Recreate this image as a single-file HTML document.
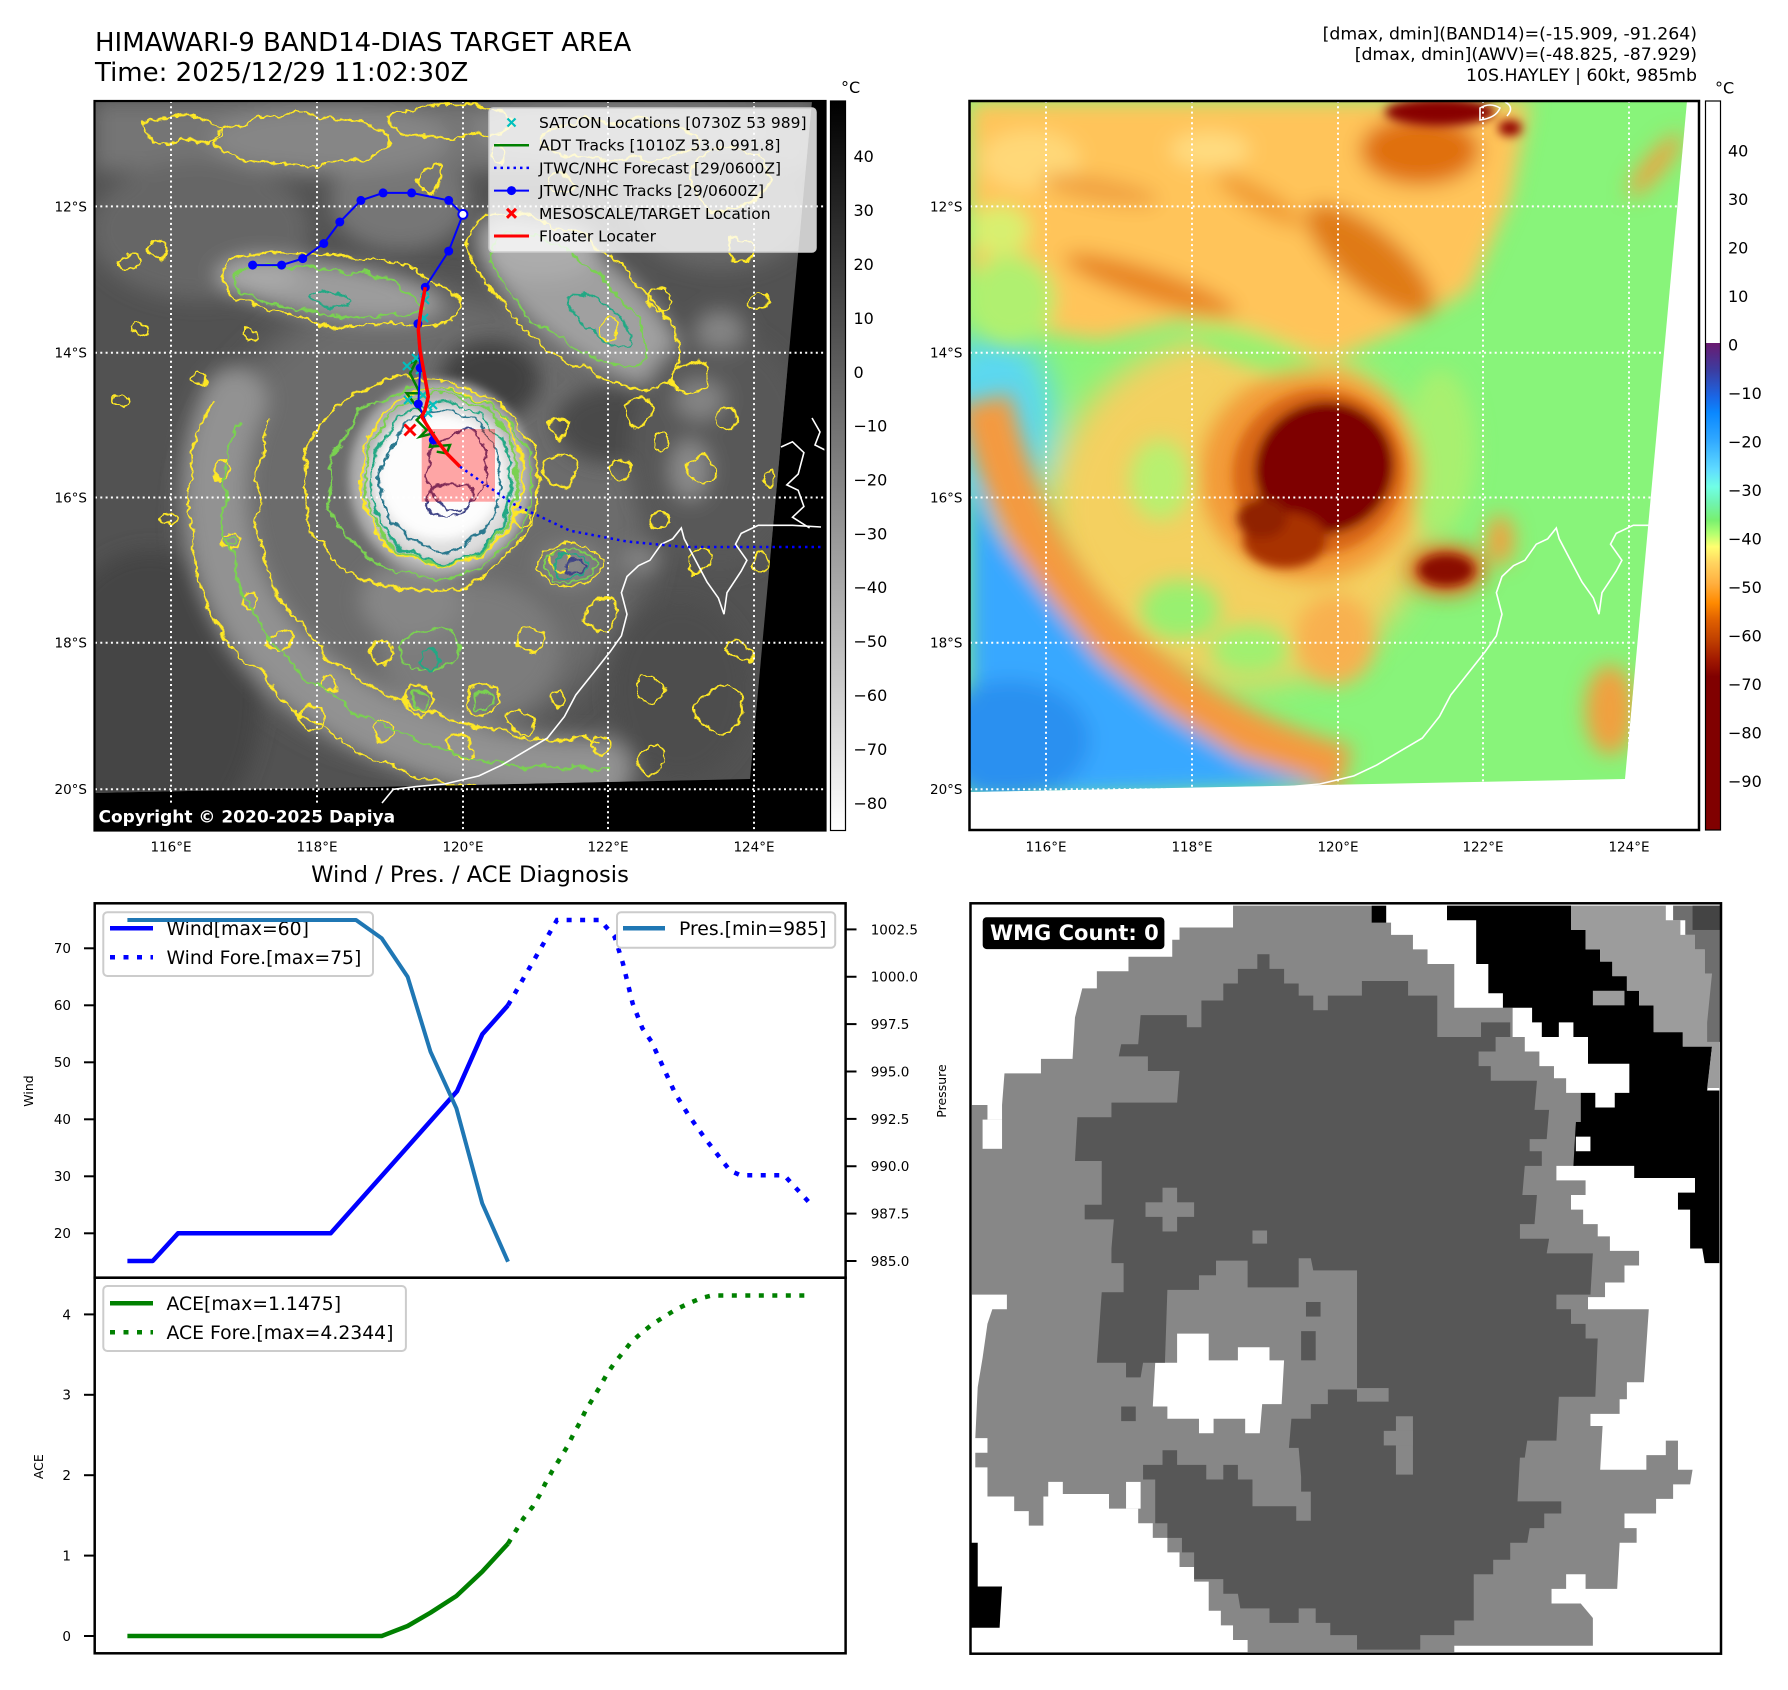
<!DOCTYPE html>
<html><head><meta charset="utf-8">
<style>
html,body{margin:0;padding:0;background:#fff;}
svg{display:block;}
text{font-family:"DejaVu Sans","Liberation Sans",sans-serif;}
</style></head><body>
<svg width="1788" height="1690" viewBox="0 0 1788 1690" xmlns="http://www.w3.org/2000/svg">
<defs>
 <clipPath id="c1"><rect x="94.5" y="101" width="731" height="729.5"/></clipPath>
 <clipPath id="d1"><polygon points="94.5,101 812,101 750,779 94.5,793"/></clipPath>
 <clipPath id="c2"><rect x="969.5" y="101" width="729.5" height="729"/></clipPath>
 <clipPath id="d2"><polygon points="969.5,101 1687,101 1625,779 969.5,792"/></clipPath>
 <clipPath id="cw"><rect x="95" y="904" width="750" height="373"/></clipPath>
 <clipPath id="ca"><rect x="95" y="1279" width="750" height="374"/></clipPath>
 <filter id="bl" x="-30%" y="-30%" width="160%" height="160%"><feGaussianBlur stdDeviation="10"/></filter>
 <filter id="bx" x="-30%" y="-30%" width="160%" height="160%"><feGaussianBlur stdDeviation="16"/></filter>
 <filter id="bm" x="-30%" y="-30%" width="160%" height="160%"><feGaussianBlur stdDeviation="5"/></filter>
 <filter id="wob" filterUnits="userSpaceOnUse" x="60" y="80" width="800" height="780">
  <feTurbulence type="fractalNoise" baseFrequency="0.035" numOctaves="2" seed="4" result="n"/>
  <feDisplacementMap in="SourceGraphic" in2="n" scale="18" xChannelSelector="R" yChannelSelector="G" result="d"/>
  <feTurbulence type="fractalNoise" baseFrequency="0.18" numOctaves="1" seed="9" result="n2"/>
  <feDisplacementMap in="d" in2="n2" scale="7" xChannelSelector="R" yChannelSelector="G"/>
 </filter>
 <linearGradient id="g1" x1="0" y1="0" x2="0" y2="1">
  <stop offset="0" stop-color="#000"/><stop offset="1" stop-color="#fff"/>
 </linearGradient>
 <linearGradient id="g2" gradientUnits="userSpaceOnUse" x1="0" y1="101" x2="0" y2="830.5">
  <stop offset="0" stop-color="#fff"/><stop offset="0.3317" stop-color="#fff"/>
  <stop offset="0.3318" stop-color="#6a1a70"/>
  <stop offset="0.3687" stop-color="#3c3ca0"/>
  <stop offset="0.4053" stop-color="#1a66e6"/>
  <stop offset="0.4277" stop-color="#0a88ff"/>
  <stop offset="0.4647" stop-color="#30a8ff"/>
  <stop offset="0.5058" stop-color="#60dcff"/>
  <stop offset="0.5287" stop-color="#70ffe6"/>
  <stop offset="0.5511" stop-color="#70f4b0"/>
  <stop offset="0.5744" stop-color="#78f070"/>
  <stop offset="0.5922" stop-color="#b0ff70"/>
  <stop offset="0.611" stop-color="#ffff70"/>
  <stop offset="0.6333" stop-color="#ffd460"/>
  <stop offset="0.6607" stop-color="#ffb040"/>
  <stop offset="0.6881" stop-color="#ff8a00"/>
  <stop offset="0.7115" stop-color="#e06000"/>
  <stop offset="0.7389" stop-color="#c04000"/>
  <stop offset="0.7663" stop-color="#a01800"/>
  <stop offset="0.7892" stop-color="#800000"/>
  <stop offset="1" stop-color="#800000"/>
 </linearGradient>
</defs>

<!-- Titles -->
<text x="95" y="51" font-size="26">HIMAWARI-9 BAND14-DIAS TARGET AREA</text>
<text x="95" y="81" font-size="26">Time: 2025/12/29 11:02:30Z</text>
<text x="1697" y="39.5" font-size="17.3" text-anchor="end">[dmax, dmin](BAND14)=(-15.909, -91.264)</text>
<text x="1697" y="60.2" font-size="17.3" text-anchor="end">[dmax, dmin](AWV)=(-48.825, -87.929)</text>
<text x="1697" y="80.9" font-size="17.3" text-anchor="end">10S.HAYLEY | 60kt, 985mb</text>

<!-- ================= MAP 1 ================= -->
<g clip-path="url(#c1)">
 <rect x="94.5" y="101" width="731" height="729.5" fill="#000"/>
 <g clip-path="url(#d1)">
  <rect x="94.5" y="101" width="731" height="729.5" fill="#525252"/>
  <g filter="url(#bx)">
   <ellipse cx="420" cy="520" rx="230" ry="230" fill="#6c6c6c"/>
  </g>
  <g filter="url(#bl)">
   <rect x="94.5" y="101" width="720" height="70" fill="#747474"/>
   <ellipse cx="200" cy="230" rx="110" ry="70" fill="#666"/>
   <ellipse cx="400" cy="200" rx="70" ry="50" fill="#767676"/>
   <ellipse cx="330" cy="140" rx="120" ry="35" fill="#868686"/>
   <ellipse cx="620" cy="130" rx="150" ry="30" fill="#848484"/>
   <ellipse cx="720" cy="210" rx="90" ry="60" fill="#666"/>
   <ellipse cx="330" cy="290" rx="115" ry="28" fill="#9c9c9c" transform="rotate(8 330 290)"/>
   <ellipse cx="260" cy="275" rx="40" ry="18" fill="#a8a8a8"/>
   <ellipse cx="580" cy="300" rx="125" ry="48" fill="#a0a0a0" transform="rotate(38 580 300)"/>
   <ellipse cx="540" cy="250" rx="60" ry="30" fill="#acacac"/>
   <ellipse cx="490" cy="380" rx="50" ry="40" fill="#404040"/>
   <ellipse cx="610" cy="425" rx="55" ry="38" fill="#4a4a4a"/>
   <ellipse cx="720" cy="450" rx="90" ry="120" fill="#595959"/>
   <ellipse cx="700" cy="400" rx="25" ry="20" fill="#848484"/>
   <ellipse cx="690" cy="470" rx="20" ry="30" fill="#8a8a8a"/>
   <ellipse cx="640" cy="560" rx="20" ry="14" fill="#848484"/>
   <ellipse cx="720" cy="330" rx="25" ry="20" fill="#848484"/>
   <ellipse cx="150" cy="700" rx="110" ry="150" fill="#454545"/>
   <path d="M235,400 C195,480 215,600 295,670 S480,770 600,770" fill="none" stroke="#929292" stroke-width="65" stroke-linecap="round"/>
   <ellipse cx="470" cy="650" rx="90" ry="70" fill="#7c7c7c"/>
   <ellipse cx="410" cy="600" rx="50" ry="40" fill="#868686"/>
   <ellipse cx="680" cy="690" rx="70" ry="90" fill="#4e4e4e"/>
   <ellipse cx="570" cy="565" rx="30" ry="20" fill="#888"/>
  </g>
  <g filter="url(#bm)">
   <ellipse cx="441" cy="478" rx="92" ry="98" fill="#adadad"/>
   <ellipse cx="442" cy="482" rx="75" ry="80" fill="#dedede"/>
   <ellipse cx="440" cy="477" rx="63" ry="63" fill="#fdfdfd"/>
  </g>
  <!-- contours -->
  <g filter="url(#wob)" fill="none" stroke-width="2">
   <g stroke="#fde725">
    <ellipse cx="441" cy="476" rx="80" ry="88"/>
    <ellipse cx="420" cy="485" rx="118" ry="108"/>
    <ellipse cx="340" cy="290" rx="120" ry="34" transform="rotate(8 340 290)"/>
    <ellipse cx="575" cy="300" rx="125" ry="55" transform="rotate(38 575 300)"/>
    <ellipse cx="300" cy="140" rx="90" ry="25"/>
    <ellipse cx="450" cy="120" rx="60" ry="18"/>
    <ellipse cx="620" cy="140" rx="80" ry="20"/>
    <ellipse cx="730" cy="180" rx="40" ry="30"/>
    <ellipse cx="180" cy="130" rx="40" ry="14"/>
    <path d="M210,400 C165,500 185,615 278,695 S470,805 625,795"/>
    <path d="M272,420 C242,500 257,590 322,650 S480,738 600,742"/>
    <ellipse cx="570" cy="565" rx="32" ry="22"/>
    <circle cx="640" cy="410" r="14"/><circle cx="690" cy="380" r="16"/>
    <circle cx="560" cy="560" r="10"/><circle cx="600" cy="615" r="16"/>
    <circle cx="700" cy="470" r="13"/><circle cx="660" cy="520" r="9"/>
    <circle cx="720" cy="710" r="22"/><circle cx="740" cy="650" r="10"/>
    <circle cx="530" cy="640" r="13"/><circle cx="480" cy="700" r="16"/>
    <circle cx="380" cy="730" r="10"/><circle cx="250" cy="335" r="8"/>
    <circle cx="200" cy="380" r="7"/><circle cx="310" cy="720" r="12"/>
    <circle cx="650" cy="690" r="12"/><circle cx="560" cy="470" r="18"/>
    <circle cx="610" cy="330" r="10"/><circle cx="730" cy="420" r="10"/>
    <circle cx="160" cy="250" r="10"/><circle cx="430" cy="180" r="12"/>
    <circle cx="380" cy="650" r="10"/><circle cx="420" cy="700" r="14"/>
    <circle cx="460" cy="745" r="10"/><circle cx="520" cy="720" r="12"/>
    <circle cx="560" cy="700" r="8"/><circle cx="600" cy="745" r="10"/>
    <circle cx="650" cy="760" r="14"/><circle cx="330" cy="685" r="8"/>
    <circle cx="280" cy="640" r="10"/><circle cx="250" cy="600" r="8"/>
    <circle cx="232" cy="540" r="10"/><circle cx="222" cy="470" r="9"/>
    <circle cx="560" cy="430" r="9"/><circle cx="620" cy="470" r="11"/>
    <circle cx="660" cy="440" r="8"/><circle cx="700" cy="560" r="12"/>
    <circle cx="760" cy="560" r="9"/><circle cx="770" cy="480" r="7"/>
    <circle cx="660" cy="300" r="10"/><circle cx="760" cy="300" r="9"/>
    <circle cx="740" cy="250" r="12"/><circle cx="560" cy="180" r="10"/>
    <circle cx="500" cy="150" r="8"/><circle cx="130" cy="260" r="9"/>
    <circle cx="140" cy="330" r="7"/><circle cx="120" cy="400" r="8"/>
    <circle cx="170" cy="520" r="7"/><circle cx="520" cy="520" r="8"/>
   </g>
   <g stroke="#7ad151">
    <ellipse cx="441" cy="478" rx="76" ry="84"/>
    <ellipse cx="430" cy="483" rx="100" ry="95"/>
    <ellipse cx="330" cy="292" rx="95" ry="22" transform="rotate(8 330 292)"/>
    <ellipse cx="570" cy="300" rx="95" ry="38" transform="rotate(38 570 300)"/>
    <path d="M240,420 C205,510 225,600 300,670 S480,770 610,770"/>
    <ellipse cx="570" cy="566" rx="25" ry="16"/>
    <ellipse cx="430" cy="650" rx="30" ry="20"/>
    <circle cx="420" cy="700" r="8"/><circle cx="480" cy="700" r="9"/>
    <circle cx="232" cy="540" r="5"/>
   </g>
   <g stroke="#22a884">
    <ellipse cx="442" cy="482" rx="71" ry="78"/>
    <ellipse cx="600" cy="320" rx="40" ry="15" transform="rotate(38 600 320)"/>
    <ellipse cx="571" cy="567" rx="15" ry="10"/>
    <ellipse cx="430" cy="660" rx="12" ry="10"/>
    <ellipse cx="330" cy="300" rx="25" ry="7"/>
   </g>
   <g stroke="#2a788e">
    <ellipse cx="442" cy="482" rx="62" ry="68"/>
   </g>
   <g stroke="#414487">
    <ellipse cx="457" cy="470" rx="30" ry="40"/>
    <ellipse cx="447" cy="500" rx="24" ry="17"/>
    <ellipse cx="575" cy="568" rx="8" ry="6"/>
   </g>
  </g>
  <rect x="421.7" y="429" width="73.3" height="72.7" fill="#ff0000" fill-opacity="0.35"/>
 </g>
 <!-- grid -->
 <g stroke="#fff" stroke-width="2" stroke-dasharray="2,3.3">
  <line x1="171" y1="101" x2="171" y2="831"/><line x1="317" y1="101" x2="317" y2="831"/>
  <line x1="463" y1="101" x2="463" y2="831"/><line x1="608" y1="101" x2="608" y2="831"/>
  <line x1="754" y1="101" x2="754" y2="831"/>
  <line x1="95" y1="206.4" x2="826" y2="206.4"/><line x1="95" y1="352.8" x2="826" y2="352.8"/>
  <line x1="95" y1="497.5" x2="826" y2="497.5"/><line x1="95" y1="642.8" x2="826" y2="642.8"/>
  <line x1="95" y1="789.3" x2="826" y2="789.3"/>
 </g>
 <!-- coast -->
 <g fill="none" stroke="#fff" stroke-width="1.6">
  <polyline points="382,803 393.4,789.3 416.2,786.6 444.7,784 478.9,775.9 501.7,765.1 524.5,751.6 547.3,738.1 564.4,716.6 575.8,695 592.9,673.5 610,651.9 621.4,635.8 627,614.2 621.4,592.7 627,576.5 638.5,565.7 649.9,560.3 661.3,544.2 672.7,538.8 681.3,528 684.2,538.8 695.5,560.3 707,581.9 718.4,598.1 724,614.2 727,592.7 741.2,571.1 746.9,560.3 735.5,544.2 741.2,533.4 758.3,525.3 775.4,525.3 792.5,525.3 821,527"/>
  <polyline points="781,447 792.5,441.8 803.9,452.6 798.2,474.1 786.8,484.9 798.2,490.3 803.9,506.5 792.5,517.2 809.6,528"/>
  <polyline points="812,418 820,432 815,445 825,450"/>
 </g>
 <!-- tracks -->
 <polyline points="460,466.7 513,503.8 570,530.7 627,541.5 684,547 830,547" fill="none" stroke="#0000ff" stroke-width="2.5" stroke-dasharray="2.5,4"/>
 <polyline points="410,363.3 416.7,360 410,373.3 420,393.3 406.7,393.3 416.7,406.7 423.3,413.3 416.7,420 426.7,430 420,436.7 433.3,433.3 430,446.7 450,445 446.7,453.3 436.7,451.7" fill="none" stroke="#008000" stroke-width="2.5"/>
 <g stroke="#00bfbf" stroke-width="2">
  <path d="M421,287l8,8M429,287l-8,8 M421,296l8,8M429,296l-8,8 M420,314l8,8M428,314l-8,8 M412,354l8,8M420,354l-8,8 M403,362l8,8M411,362l-8,8 M416,366l8,8M424,366l-8,8 M404,396l8,8M412,396l-8,8 M424,409l8,8M432,409l-8,8 M429,401l8,8M437,401l-8,8 M419,391l8,8M427,391l-8,8"/>
 </g>
 <polyline points="252.6,265.1 281.6,265.1 302.7,258.6 323.8,243.5 339.8,222 360.9,200.4 383.1,192.9 411.6,192.9 448.7,200.4 462.9,214.4 448.7,251.1 425.3,287.2 417.9,323.8 420.2,368 418.3,404 433.3,440" fill="none" stroke="#0000ff" stroke-width="2"/>
 <g fill="#0000ff">
  <circle cx="252.6" cy="265.1" r="4.5"/><circle cx="281.6" cy="265.1" r="4.5"/><circle cx="302.7" cy="258.6" r="4.5"/>
  <circle cx="323.8" cy="243.5" r="4.5"/><circle cx="339.8" cy="222" r="4.5"/><circle cx="360.9" cy="200.4" r="4.5"/>
  <circle cx="383.1" cy="192.9" r="4.5"/><circle cx="411.6" cy="192.9" r="4.5"/><circle cx="448.7" cy="200.4" r="4.5"/>
  <circle cx="462.9" cy="214.4" r="4.5" fill="#fff" stroke="#0000ff" stroke-width="2"/>
  <circle cx="448.7" cy="251.1" r="4.5"/><circle cx="425.3" cy="287.2" r="4.5"/><circle cx="417.9" cy="323.8" r="4.5"/>
  <circle cx="420.2" cy="368" r="4.5"/><circle cx="418.3" cy="404" r="4.5"/><circle cx="433.3" cy="440" r="4.5"/>
 </g>
 <polyline points="425.3,287.2 421,310 418.3,330 420,350 428.3,396.7 425,410 421.7,416.7 430,430 436.7,440 446.7,453.3 460,466.7" fill="none" stroke="#ff0000" stroke-width="3.5"/>
 <path d="M404.5,424.5l11,11M415.5,424.5l-11,11" stroke="#ff0000" stroke-width="3"/>
 <!-- legend -->
 <rect x="489" y="108" width="327" height="144" rx="4" fill="#fff" fill-opacity="0.8" stroke="#cccccc" stroke-width="1.5"/>
 <g font-size="15.5" fill="#000">
  <text x="539" y="128">SATCON Locations [0730Z 53 989]</text>
  <text x="539" y="150.7">ADT Tracks [1010Z 53.0 991.8]</text>
  <text x="539" y="173.4">JTWC/NHC Forecast [29/0600Z]</text>
  <text x="539" y="196.1">JTWC/NHC Tracks [29/0600Z]</text>
  <text x="539" y="218.8">MESOSCALE/TARGET Location</text>
  <text x="539" y="241.5">Floater Locater</text>
 </g>
 <path d="M507.5,118.5l8,8M515.5,118.5l-8,8" stroke="#00bfbf" stroke-width="2.2"/>
 <line x1="494" y1="145.2" x2="529" y2="145.2" stroke="#008000" stroke-width="2.5"/>
 <line x1="494" y1="167.9" x2="529" y2="167.9" stroke="#0000ff" stroke-width="2.5" stroke-dasharray="2.5,4"/>
 <line x1="494" y1="190.6" x2="529" y2="190.6" stroke="#0000ff" stroke-width="2"/>
 <circle cx="511.5" cy="190.6" r="4.5" fill="#0000ff"/>
 <path d="M507,208.8l9,9M516,208.8l-9,9" stroke="#ff0000" stroke-width="3"/>
 <line x1="494" y1="236" x2="529" y2="236" stroke="#ff0000" stroke-width="3"/>
 <!-- copyright -->
 <rect x="91" y="804" width="312" height="30" rx="4" fill="#000"/>
 <text x="98.5" y="822.5" font-size="17" font-weight="bold" fill="#fff">Copyright © 2020-2025 Dapiya</text>
</g>
<rect x="94.5" y="101" width="731" height="729.5" fill="none" stroke="#000" stroke-width="2.2"/>
<!-- colorbar 1 -->
<rect x="830.5" y="101" width="15" height="729.5" fill="url(#g1)" stroke="#000" stroke-width="1.2"/>
<text x="841" y="93" font-size="16">°C</text>
<g font-size="16">
 <text x="853.5" y="162">40</text><text x="853.5" y="216">30</text><text x="853.5" y="270">20</text>
 <text x="853.5" y="324">10</text><text x="853.5" y="378">0</text>
 <text x="853.5" y="431.5">−10</text><text x="853.5" y="485.4">−20</text><text x="853.5" y="539.3">−30</text>
 <text x="853.5" y="593.2">−40</text><text x="853.5" y="647.1">−50</text><text x="853.5" y="701">−60</text>
 <text x="853.5" y="755">−70</text><text x="853.5" y="808.8">−80</text>
</g>
<!-- map tick labels -->
<g font-size="13.5" text-anchor="end">
 <text x="87" y="211.3">12°S</text><text x="87" y="357.7">14°S</text><text x="87" y="502.4">16°S</text>
 <text x="87" y="647.7">18°S</text><text x="87" y="794.2">20°S</text>
 <text x="962.5" y="211.3">12°S</text><text x="962.5" y="357.7">14°S</text><text x="962.5" y="502.4">16°S</text>
 <text x="962.5" y="647.7">18°S</text><text x="962.5" y="794.2">20°S</text>
</g>
<g font-size="13.5" text-anchor="middle">
 <text x="171" y="851.5">116°E</text><text x="317" y="851.5">118°E</text><text x="463" y="851.5">120°E</text>
 <text x="608" y="851.5">122°E</text><text x="754" y="851.5">124°E</text>
 <text x="1046" y="851.5">116°E</text><text x="1192" y="851.5">118°E</text><text x="1338" y="851.5">120°E</text>
 <text x="1483" y="851.5">122°E</text><text x="1629" y="851.5">124°E</text>
</g>

<!-- ================= MAP 2 ================= -->
<g clip-path="url(#c2)">
 <rect x="969.5" y="101" width="730" height="730" fill="#fff"/>
 <g clip-path="url(#d2)">
  <rect x="969.5" y="101" width="730" height="730" fill="#88f47a"/>
  <g filter="url(#bx)">
   <ellipse cx="1240" cy="510" rx="190" ry="175" fill="#f4d060"/>
   <ellipse cx="995" cy="420" rx="60" ry="90" fill="#5cd8f0"/>
  </g>
  <g filter="url(#bl)">
   <polygon points="969.5,101 1530,101 1510,200 1470,290 1400,330 1330,360 1250,330 1180,320 1100,340 1030,330 969.5,300" fill="#ffc45a"/>
   <ellipse cx="1010" cy="300" rx="45" ry="45" fill="#b0f070"/>
   <ellipse cx="1030" cy="160" rx="50" ry="30" fill="#ffd878"/>
   <ellipse cx="1000" cy="230" rx="30" ry="25" fill="#d8f070"/>
   <ellipse cx="1210" cy="150" rx="40" ry="18" fill="#ffdc80"/>
   <ellipse cx="1150" cy="285" rx="90" ry="16" fill="#e88420" transform="rotate(18 1150 285)"/>
   <ellipse cx="1370" cy="260" rx="80" ry="30" fill="#e07a18" transform="rotate(40 1370 260)"/>
   <ellipse cx="1420" cy="150" rx="60" ry="35" fill="#e07010"/>
   <ellipse cx="1260" cy="200" rx="50" ry="12" fill="#f09a30" transform="rotate(30 1260 200)"/>
   <ellipse cx="1100" cy="190" rx="60" ry="12" fill="#f0a040" transform="rotate(10 1100 190)"/>
   <ellipse cx="1260" cy="352" rx="70" ry="18" fill="#98f070" transform="rotate(20 1260 352)"/>
   <ellipse cx="1655" cy="165" rx="40" ry="10" fill="#f0a040" transform="rotate(-50 1655 165)"/>
   <ellipse cx="1180" cy="610" rx="40" ry="30" fill="#98f070"/>
   <ellipse cx="1250" cy="650" rx="40" ry="25" fill="#a0f070"/>
   <ellipse cx="1160" cy="480" rx="30" ry="40" fill="#b8f070"/>
   <path d="M985,400 C1010,510 1060,600 1125,655 S1250,745 1345,772" fill="none" stroke="#f49a40" stroke-width="52"/>
   <polygon points="969.5,480 1000,535 1050,600 1100,660 1165,712 1240,758 1330,786 969.5,800" fill="#38a8ff"/>
   <ellipse cx="1010" cy="740" rx="80" ry="60" fill="#2a90f0"/>
   <ellipse cx="1440" cy="450" rx="35" ry="80" fill="#a8f070"/>
   <ellipse cx="1446" cy="570" rx="40" ry="26" fill="#e07020"/>
   <ellipse cx="1500" cy="540" rx="14" ry="25" fill="#f0a040"/>
   <ellipse cx="1610" cy="710" rx="25" ry="45" fill="#f0a040"/>
   <ellipse cx="1335" cy="640" rx="40" ry="45" fill="#f8b050"/>
   <ellipse cx="1310" cy="475" rx="110" ry="105" fill="#f29a38"/>
  </g>
  <g filter="url(#bm)">
   <ellipse cx="1318" cy="472" rx="86" ry="82" fill="#d86818" transform="rotate(-20 1318 472)"/>
   <ellipse cx="1324" cy="468" rx="70" ry="66" fill="#7e0000" transform="rotate(-20 1324 468)"/>
   <ellipse cx="1285" cy="540" rx="42" ry="28" fill="#a83000"/>
   <ellipse cx="1262" cy="518" rx="25" ry="20" fill="#902000"/>
   <ellipse cx="1446" cy="570" rx="28" ry="16" fill="#8a0a00"/>
   <ellipse cx="1440" cy="112" rx="55" ry="14" fill="#880000"/>
   <ellipse cx="1510" cy="128" rx="12" ry="8" fill="#900000"/>
  </g>
 </g>
 <g stroke="#fff" stroke-width="2" stroke-dasharray="2,3.3">
  <line x1="1046" y1="101" x2="1046" y2="831"/><line x1="1192" y1="101" x2="1192" y2="831"/>
  <line x1="1338" y1="101" x2="1338" y2="831"/><line x1="1483" y1="101" x2="1483" y2="831"/>
  <line x1="1629" y1="101" x2="1629" y2="831"/>
  <line x1="970" y1="206.4" x2="1699" y2="206.4"/><line x1="970" y1="352.8" x2="1699" y2="352.8"/>
  <line x1="970" y1="497.5" x2="1699" y2="497.5"/><line x1="970" y1="642.8" x2="1699" y2="642.8"/>
  <line x1="970" y1="789.3" x2="1699" y2="789.3"/>
 </g>
 <g fill="none" stroke="#fff" stroke-width="1.6" transform="translate(875 0)">
  <polyline points="382,803 393.4,789.3 416.2,786.6 444.7,784 478.9,775.9 501.7,765.1 524.5,751.6 547.3,738.1 564.4,716.6 575.8,695 592.9,673.5 610,651.9 621.4,635.8 627,614.2 621.4,592.7 627,576.5 638.5,565.7 649.9,560.3 661.3,544.2 672.7,538.8 681.3,528 684.2,538.8 695.5,560.3 707,581.9 718.4,598.1 724,614.2 727,592.7 741.2,571.1 746.9,560.3 735.5,544.2 741.2,533.4 758.3,525.3 775.4,525.3 792.5,525.3 821,527"/>
  <polyline points="781,447 792.5,441.8 803.9,452.6 798.2,474.1 786.8,484.9 798.2,490.3 803.9,506.5 792.5,517.2 809.6,528"/>
  <path d="M605,108 q10,-6 20,0 q-4,10 -20,12z M630,102 q10,5 2,14"/>
 </g>
</g>
<rect x="969.5" y="101" width="729.5" height="729" fill="none" stroke="#000" stroke-width="2.5"/>
<rect x="1705.5" y="101" width="15" height="729" fill="url(#g2)" stroke="#000" stroke-width="1.2"/>
<text x="1715" y="93.3" font-size="16">°C</text>
<g font-size="16">
 <text x="1728" y="156.6">40</text><text x="1728" y="205.1">30</text><text x="1728" y="253.6">20</text>
 <text x="1728" y="302.1">10</text><text x="1728" y="350.6">0</text>
 <text x="1728" y="399.1">−10</text><text x="1728" y="447.6">−20</text><text x="1728" y="496.1">−30</text>
 <text x="1728" y="544.6">−40</text><text x="1728" y="593.1">−50</text><text x="1728" y="641.6">−60</text>
 <text x="1728" y="690.1">−70</text><text x="1728" y="738.6">−80</text><text x="1728" y="787.1">−90</text>
</g>

<!-- ================= WIND / PRES ================= -->
<text x="470" y="882" font-size="22.6" text-anchor="middle">Wind / Pres. / ACE Diagnosis</text>
<g clip-path="url(#cw)">
 <polyline points="127.4,1261 152.7,1261 178,1233.3 330.7,1233.3 457,1091.3 482.3,1034.3 508,1005.3" fill="none" stroke="#0000ff" stroke-width="4.5" stroke-linejoin="round"/>
 <polyline points="508,1005.3 557,920 600,920 614.6,936.7 622.9,963.3 632.6,1003.3 642.4,1028.3 651.5,1041.7 663,1066.7 675.1,1093.3 688.9,1115.7 705,1138.3 721.6,1160 730.2,1170.7 740.5,1175.3 784.2,1175.3 809.4,1202.7" fill="none" stroke="#0000ff" stroke-width="4.5" stroke-dasharray="5,8.5"/>
</g>
<rect x="103.3" y="912.3" width="269.7" height="63.7" rx="4" fill="#fff" fill-opacity="0.8" stroke="#cccccc" stroke-width="2"/>
<line x1="110" y1="928.3" x2="153" y2="928.3" stroke="#0000ff" stroke-width="4.5"/>
<line x1="110" y1="957.3" x2="153" y2="957.3" stroke="#0000ff" stroke-width="4.5" stroke-dasharray="5,8.5"/>
<text x="166.5" y="935" font-size="18.8">Wind[max=60]</text>
<text x="166.5" y="964" font-size="18.8">Wind Fore.[max=75]</text>
<g clip-path="url(#cw)">
 <polyline points="127.4,920 356,920 381.7,938.3 407.6,976.7 430.5,1051.7 456.4,1108.3 482.2,1203.3 508,1261.7" fill="none" stroke="#1f77b4" stroke-width="4" stroke-linejoin="round"/>
</g>
<rect x="617" y="912.3" width="218.2" height="35.4" rx="4" fill="#fff" fill-opacity="0.8" stroke="#cccccc" stroke-width="2"/>
<line x1="623" y1="928.3" x2="665" y2="928.3" stroke="#1f77b4" stroke-width="4.5"/>
<text x="679" y="935" font-size="18.8">Pres.[min=985]</text>
<rect x="94.7" y="903.3" width="750.9" height="374.4" fill="none" stroke="#000" stroke-width="2.5"/>
<g stroke="#000" stroke-width="2">
 <line x1="84" y1="948.3" x2="94.7" y2="948.3"/><line x1="84" y1="1005.3" x2="94.7" y2="1005.3"/>
 <line x1="84" y1="1062.3" x2="94.7" y2="1062.3"/><line x1="84" y1="1119.3" x2="94.7" y2="1119.3"/>
 <line x1="84" y1="1176.3" x2="94.7" y2="1176.3"/><line x1="84" y1="1233.3" x2="94.7" y2="1233.3"/>
 <line x1="845.6" y1="929.4" x2="856.5" y2="929.4"/><line x1="845.6" y1="976.75" x2="856.5" y2="976.75"/>
 <line x1="845.6" y1="1024.1" x2="856.5" y2="1024.1"/><line x1="845.6" y1="1071.5" x2="856.5" y2="1071.5"/>
 <line x1="845.6" y1="1118.9" x2="856.5" y2="1118.9"/><line x1="845.6" y1="1166.25" x2="856.5" y2="1166.25"/>
 <line x1="845.6" y1="1213.6" x2="856.5" y2="1213.6"/><line x1="845.6" y1="1261" x2="856.5" y2="1261"/>
</g>
<g font-size="13.5" text-anchor="end">
 <text x="71" y="953.2">70</text><text x="71" y="1010.2">60</text><text x="71" y="1067.2">50</text>
 <text x="71" y="1124.2">40</text><text x="71" y="1181.2">30</text><text x="71" y="1238.2">20</text>
</g>
<g font-size="13.5">
 <text x="870.7" y="934.3">1002.5</text><text x="870.7" y="981.6">1000.0</text><text x="870.7" y="1029">997.5</text>
 <text x="870.7" y="1076.4">995.0</text><text x="870.7" y="1123.8">992.5</text><text x="870.7" y="1171.1">990.0</text>
 <text x="870.7" y="1218.5">987.5</text><text x="870.7" y="1265.9">985.0</text>
</g>
<text transform="translate(33 1091) rotate(-90)" font-size="12.5" text-anchor="middle">Wind</text>
<text transform="translate(946 1091) rotate(-90)" font-size="12.5" text-anchor="middle">Pressure</text>

<!-- ================= ACE ================= -->
<g clip-path="url(#ca)">
 <polyline points="127.4,1636 381.7,1636 407.6,1626 430.5,1612.7 456.4,1596 482.2,1571.7 508,1543.7" fill="none" stroke="#008000" stroke-width="4.5" stroke-linejoin="round"/>
 <polyline points="508,1543.7 516.7,1529.3 523.5,1518.3 532.7,1506.7 539.6,1495 545.4,1483.3 552.2,1471 559.7,1459 567.2,1446.7 573,1435 579.8,1422.7 585.5,1410.7 593,1398.3 599.9,1386.7 606.8,1374.3 614.2,1363.3 622.8,1352.7 631.5,1341.7 641.8,1332.7 652.7,1324 664.2,1316.7 676.2,1309.3 688.9,1303.3 701.5,1298 711.8,1295.5 809.4,1295.5" fill="none" stroke="#008000" stroke-width="4.5" stroke-dasharray="5,8.5"/>
</g>
<rect x="103.3" y="1286" width="302.6" height="65" rx="4" fill="#fff" fill-opacity="0.8" stroke="#cccccc" stroke-width="2"/>
<line x1="110" y1="1303.3" x2="153" y2="1303.3" stroke="#008000" stroke-width="4.5"/>
<line x1="110" y1="1332.3" x2="153" y2="1332.3" stroke="#008000" stroke-width="4.5" stroke-dasharray="5,8.5"/>
<text x="166.5" y="1310" font-size="18.8">ACE[max=1.1475]</text>
<text x="166.5" y="1339" font-size="18.8">ACE Fore.[max=4.2344]</text>
<rect x="94.7" y="1277.7" width="750.9" height="375.6" fill="none" stroke="#000" stroke-width="2.5"/>
<g stroke="#000" stroke-width="2">
 <line x1="84" y1="1636" x2="94.7" y2="1636"/><line x1="84" y1="1555.6" x2="94.7" y2="1555.6"/>
 <line x1="84" y1="1475.2" x2="94.7" y2="1475.2"/><line x1="84" y1="1394.8" x2="94.7" y2="1394.8"/>
 <line x1="84" y1="1314.4" x2="94.7" y2="1314.4"/>
</g>
<g font-size="13.5" text-anchor="end">
 <text x="71" y="1640.9">0</text><text x="71" y="1560.5">1</text><text x="71" y="1480.1">2</text>
 <text x="71" y="1399.7">3</text><text x="71" y="1319.3">4</text>
</g>
<text transform="translate(43 1466.7) rotate(-90)" font-size="12.5" text-anchor="middle">ACE</text>

<!-- ================= WMG ================= -->
<svg x="968" y="900.8" width="762" height="762" viewBox="0 0 1567 1567">
 <rect x="5" y="5" width="1543" height="1543" fill="#fff"/>
 <polygon fill="#878787" points="545,10 830,10 830,45 870,45 870,70 915,70 915,100 945,100 945,130 1000,130 1000,220 1120,220 1120,280 1145,280 1145,310 1175,310 1175,340 1205,340 1205,365 1230,365 1230,395 1260,395 1260,455 1250,455 1250,545 1210,545 1210,575 1270,575 1270,605 1240,605 1240,635 1265,635 1265,665 1295,665 1295,690 1320,690 1320,720 1380,720 1380,750 1350,750 1350,785 1310,785 1310,815 1275,815 1275,840 1400,840 1390,990 1355,990 1355,1025 1340,1025 1340,1055 1280,1055 1280,1080 1305,1080 1300,1170 1395,1170 1395,1140 1435,1140 1435,1110 1460,1110 1460,1170 1490,1170 1485,1200 1450,1200 1450,1230 1415,1230 1415,1260 1350,1260 1350,1290 1375,1290 1375,1320 1340,1320 1335,1415 1270,1415 1270,1385 1230,1385 1230,1415 1200,1415 1200,1445 1260,1445 1285,1475 1285,1532 1000,1532 1000,1545 575,1545 575,1520 545,1520 545,1490 520,1490 520,1460 495,1460 495,1400 465,1400 465,1370 435,1370 435,1340 410,1340 410,1310 380,1310 380,1280 350,1280 350,1250 290,1250 290,1220 195,1220 195,1195 165,1195 165,1225 155,1225 155,1285 125,1285 125,1255 95,1255 95,1225 40,1225 40,1165 15,1165 15,1135 40,1135 40,1105 15,1105 20,1000 30,940 40,870 50,840 80,840 80,810 8,810 8,420 40,420 40,450 70,450 70,420 75,355 150,355 150,325 215,325 220,240 235,180 265,180 265,145 330,145 330,115 420,115 420,80 435,80 435,55 545,55"/>
 <polygon fill="#fff" points="430,890 495,890 495,945 555,945 555,918 620,918 620,945 650,945 645,1035 605,1035 600,1095 570,1095 570,1065 505,1065 505,1095 475,1095 475,1065 410,1065 410,1040 380,1040 385,950 430,950"/>
 <rect x="325" y="1195" width="30" height="55" fill="#fff"/>
 <rect x="30" y="450" width="40" height="60" fill="#fff"/>
 <polygon fill="#575757" points="595,110 620,110 620,140 650,140 650,170 680,170 680,195 710,195 710,225 740,225 740,195 810,195 810,165 905,165 905,195 965,195 965,280 1055,280 1055,250 1115,250 1115,280 1085,280 1085,310 1050,310 1050,340 1075,340 1075,370 1170,370 1165,430 1195,430 1190,490 1155,490 1155,515 1180,515 1180,545 1145,545 1140,605 1170,605 1165,665 1135,665 1135,695 1195,695 1190,725 1285,725 1280,810 1210,810 1210,840 1240,840 1240,870 1270,870 1270,900 1295,900 1290,1020 1215,1020 1210,1110 1150,1110 1145,1145 1135,1145 1130,1235 1220,1235 1220,1260 1185,1260 1185,1290 1155,1290 1150,1320 1115,1320 1115,1355 1080,1355 1080,1385 1040,1385 1040,1480 1000,1480 1000,1510 930,1510 930,1540 800,1540 800,1510 745,1510 745,1485 715,1485 715,1455 680,1455 680,1485 620,1485 620,1455 560,1455 555,1425 525,1425 525,1395 465,1395 465,1340 440,1340 440,1310 410,1310 410,1280 385,1280 385,1190 360,1190 360,1160 400,1160 400,1130 430,1130 430,1160 490,1160 490,1190 525,1190 525,1160 555,1160 555,1190 585,1190 585,1245 675,1245 675,1275 705,1275 705,1215 685,1215 685,1185 680,1125 660,1125 665,1065 705,1065 705,1035 740,1035 740,1005 800,1005 800,760 710,760 705,735 680,735 680,795 575,795 575,740 510,740 510,770 475,770 475,800 410,800 405,950 360,950 355,980 325,980 325,950 265,950 275,805 320,805 320,745 295,745 295,715 300,655 240,655 240,625 275,625 275,535 220,535 225,445 295,445 295,415 430,415 435,350 370,350 370,320 310,320 315,295 350,295 355,235 450,235 450,260 480,260 480,205 525,205 525,170 555,170 555,140 595,140"/>
 <g fill="#878787">
  <rect x="400" y="590" width="30" height="90"/><rect x="365" y="620" width="100" height="30"/>
  <rect x="585" y="678" width="30" height="27"/><rect x="800" y="1002" width="65" height="28"/>
  <rect x="880" y="1060" width="35" height="120"/><rect x="855" y="1090" width="60" height="30"/>
 </g>
 <g fill="#575757">
  <rect x="695" y="825" width="30" height="30"/><rect x="685" y="885" width="30" height="60"/>
  <rect x="315" y="1040" width="30" height="30"/>
 </g>
 <polygon fill="#000" points="985,10 1240,10 1240,60 1270,60 1270,100 1300,100 1300,125 1325,125 1325,155 1355,155 1355,185 1380,185 1380,215 1410,215 1410,270 1470,270 1470,300 1530,300 1520,390 1545,390 1545,745 1515,745 1510,715 1485,715 1485,635 1460,635 1460,600 1495,600 1495,570 1370,570 1370,545 1245,545 1250,455 1260,455 1260,395 1290,395 1290,425 1330,425 1330,395 1360,395 1360,335 1275,335 1275,280 1245,280 1245,250 1215,250 1215,280 1180,280 1180,250 1160,250 1160,220 1100,220 1100,190 1070,190 1070,130 1045,130 1045,40 985,40"/>
 <rect x="1250" y="485" width="30" height="30" fill="#fff"/>
 <rect x="830" y="10" width="30" height="35" fill="#000"/>
 <polygon fill="#000" points="5,1320 20,1320 20,1410 70,1410 65,1495 5,1495"/>
 <polygon fill="#9c9c9c" points="1240,10 1435,10 1435,40 1465,40 1465,70 1495,70 1495,100 1515,100 1515,150 1545,150 1545,385 1520,385 1530,300 1470,300 1470,270 1410,270 1410,215 1380,215 1380,185 1355,185 1355,155 1325,155 1325,125 1300,125 1300,100 1270,100 1270,60 1240,60"/>
 <polygon fill="#6e6e6e" points="1450,10 1548,10 1548,290 1520,290 1520,250 1525,200 1530,150 1515,150 1515,100 1495,100 1495,70 1475,70 1475,40 1450,40"/>
 <rect x="1490" y="10" width="58" height="50" fill="#444"/>
 <rect x="1285" y="185" width="65" height="30" fill="#9c9c9c"/>
</svg>
<rect x="970.5" y="903.3" width="750.5" height="750.4" fill="none" stroke="#000" stroke-width="2.5"/>
<rect x="982.7" y="917.2" width="181.7" height="31.9" rx="4" fill="#000"/>
<text x="990" y="940" font-size="21" font-weight="bold" fill="#fff">WMG Count: 0</text>
</svg>
</body></html>
